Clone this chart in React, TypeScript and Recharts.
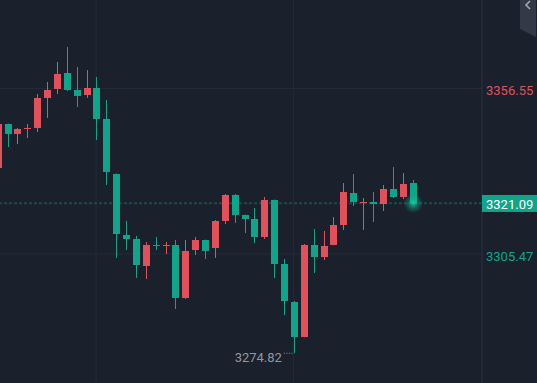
import React from 'react';
import { ComposedChart, Bar, XAxis, YAxis, ReferenceLine, ReferenceDot } from 'recharts';

const UP = '#e2505c';
const DOWN = '#0ea58a';
const BG = '#1a202c';
const GRID = '#242b38';
const FONT = 'Roboto, "Noto Sans", sans-serif';

const opens = [
  3332.01, 3345.59, 3342.51, 3344.05, 3344.36, 3353.62, 3356.40, 3361.33, 3356.09, 3354.54,
  3356.70, 3347.14, 3330.16, 3311.33, 3310.10, 3301.77, 3308.25, 3307.94, 3308.25, 3291.89,
  3306.70, 3309.79, 3307.32, 3315.65, 3323.68, 3317.51, 3316.27, 3310.72, 3322.14, 3302.38,
  3290.65, 3279.85, 3308.25, 3304.54, 3308.25, 3314.42, 3324.30, 3321.21, 3321.52, 3320.90,
  3325.53, 3323.06, 3327.38,
];
const highs = [
  3346.52, 3345.70, 3344.36, 3345.59, 3354.85, 3358.56, 3364.73, 3369.36, 3363.19, 3362.26,
  3360.10, 3353.00, 3330.30, 3315.65, 3311.03, 3309.17, 3310.72, 3309.17, 3309.79, 3309.79,
  3310.72, 3309.90, 3315.96, 3323.99, 3323.99, 3317.60, 3319.67, 3323.06, 3322.25, 3303.93,
  3290.96, 3308.56, 3313.19, 3312.57, 3316.89, 3327.38, 3330.16, 3322.75, 3324.61, 3326.77,
  3332.32, 3330.47, 3328.31,
];
const lows = [
  3331.40, 3338.49, 3339.42, 3341.27, 3343.12, 3347.45, 3354.85, 3355.78, 3350.84, 3353.62,
  3340.65, 3326.77, 3304.24, 3306.70, 3298.06, 3297.75, 3306.70, 3305.47, 3288.49, 3291.58,
  3305.16, 3303.93, 3304.24, 3314.73, 3315.04, 3311.95, 3308.86, 3310.10, 3298.06, 3286.64,
  3274.82, 3279.75, 3299.61, 3303.62, 3308.15, 3312.88, 3320.28, 3312.88, 3315.35, 3318.74,
  3322.75, 3322.45, 3321.00,
];
const closes = [
  3345.59, 3342.51, 3344.05, 3344.36, 3353.62, 3356.09, 3361.03, 3356.09, 3354.24, 3356.70,
  3347.14, 3330.78, 3311.64, 3310.10, 3302.07, 3308.25, 3307.94, 3308.25, 3291.89, 3306.40,
  3309.79, 3306.40, 3315.65, 3323.68, 3317.51, 3316.27, 3310.72, 3322.14, 3302.38, 3290.96,
  3279.85, 3308.25, 3304.54, 3307.94, 3314.42, 3324.61, 3321.52, 3321.52, 3320.90, 3325.53,
  3323.06, 3327.07, 3321.09,
];

const upperLevel = 3356.55;
const lowerLevel = 3305.47;
const lastPrice = 3321.09;
const lowPrice = 3274.82;
const lowIndex = 30;
const tickValues = [upperLevel, lastPrice, lowerLevel];
const verticalGrid = [9.87, 29.87];

const data = opens.map((o, i) => ({ i, open: o, high: highs[i], low: lows[i], close: closes[i] }));

function Candle(props: any) {
  const { x, y, width, height, payload } = props;
  if (!payload) return null;
  const { open, close, high, low } = payload;
  const yTop = Math.min(y, y + height);
  const h = Math.abs(height);
  const cx = Math.round(x + width / 2 - 0.5) + 0.5;
  const k = h / (high - low);
  const py = (p: number) => yTop + (high - p) * k;
  const up = close >= open;
  const color = up ? UP : DOWN;
  const top = py(Math.max(open, close));
  const bot = py(Math.min(open, close));
  const bh = Math.max(1, bot - top);
  return (
    <g>
      <rect x={cx - 0.5} y={yTop} width={1} height={h} fill={color} />
      <rect x={cx - 3.5} y={top} width={7} height={bh} fill={color} />
    </g>
  );
}

function PriceTick(props: any) {
  const { x, y, payload } = props;
  const v = payload.value;
  if (v === lastPrice) {
    return (
      <g>
        <rect x={x} y={y - 8.4} width={56} height={17} fill={DOWN} />
        <text x={x + 4} y={y + 5.2} fill="#ffffff" fontSize={13} fontFamily={FONT}>
          {v.toFixed(2)}
        </text>
      </g>
    );
  }
  const color = v > lastPrice ? UP : DOWN;
  return (
    <text x={x + 4} y={y + 7} fill={color} fontSize={13} fontFamily={FONT}>
      {v.toFixed(2)}
    </text>
  );
}

function Glow(props: any) {
  const { cx, cy } = props;
  return <circle cx={cx} cy={cy} r={10} fill="url(#lastGlow)" />;
}

function LowMark(props: any) {
  const { cx, cy } = props;
  return (
    <g>
      <line x1={cx - 11} x2={cx - 1} y1={cy} y2={cy} stroke="#8a909b" strokeDasharray="1 1.5" />
      <text x={cx - 13} y={cy + 8.5} textAnchor="end" fill="#9097a2" fontSize={13} fontFamily={FONT}>
        {lowPrice.toFixed(2)}
      </text>
    </g>
  );
}

export default function App() {
  return (
    <div style={{ position: 'absolute', left: -20, top: 0, width: 557, height: 383, background: BG, overflow: 'hidden' }}>
      <ComposedChart width={557} height={383} data={data} margin={{ top: 0, right: 0, bottom: 0, left: 0 }}>
        <defs>
          <radialGradient id="lastGlow">
            <stop offset="0%" stopColor="#19d8b0" stopOpacity={0.85} />
            <stop offset="45%" stopColor="#13b894" stopOpacity={0.45} />
            <stop offset="100%" stopColor="#0ea58a" stopOpacity={0} />
          </radialGradient>
        </defs>
        <XAxis dataKey="i" type="number" domain={[-1.883, 48.94]} allowDataOverflow hide />
        <YAxis
          orientation="right"
          domain={[3265.65, 3383.86]}
          allowDataOverflow
          ticks={tickValues}
          interval={0}
          width={55}
          tickSize={0}
          tickMargin={0}
          tickLine={false}
          axisLine={{ stroke: '#2a3140' }}
          tick={<PriceTick />}
        />
        <ReferenceLine y={upperLevel} stroke={GRID} zIndex={-10} />
        <ReferenceLine y={lowerLevel} stroke={GRID} zIndex={-10} />
        {verticalGrid.map((v) => (
          <ReferenceLine key={v} x={v} stroke={GRID} zIndex={-10} />
        ))}
        <ReferenceLine y={lastPrice} stroke="#1d4a49" strokeWidth={2} strokeDasharray="3 2" zIndex={-5} />
        <Bar dataKey={(d: any) => [d.low, d.high]} barSize={7} shape={<Candle />} isAnimationActive={false} />
        <ReferenceDot x={42} y={lastPrice} r={10} shape={<Glow />} />
        <ReferenceDot x={lowIndex} y={lowPrice} r={1} shape={<LowMark />} />
      </ComposedChart>
      <svg width={537} height={40} style={{ position: 'absolute', left: 20, top: 0 }}>
        <polygon points="520,0 536,0 536,37 520,29" fill="#333a47" />
        <polyline points="530,1 526,5 530,9" fill="none" stroke="#a3a9b3" strokeWidth={1.6} />
      </svg>
    </div>
  );
}
